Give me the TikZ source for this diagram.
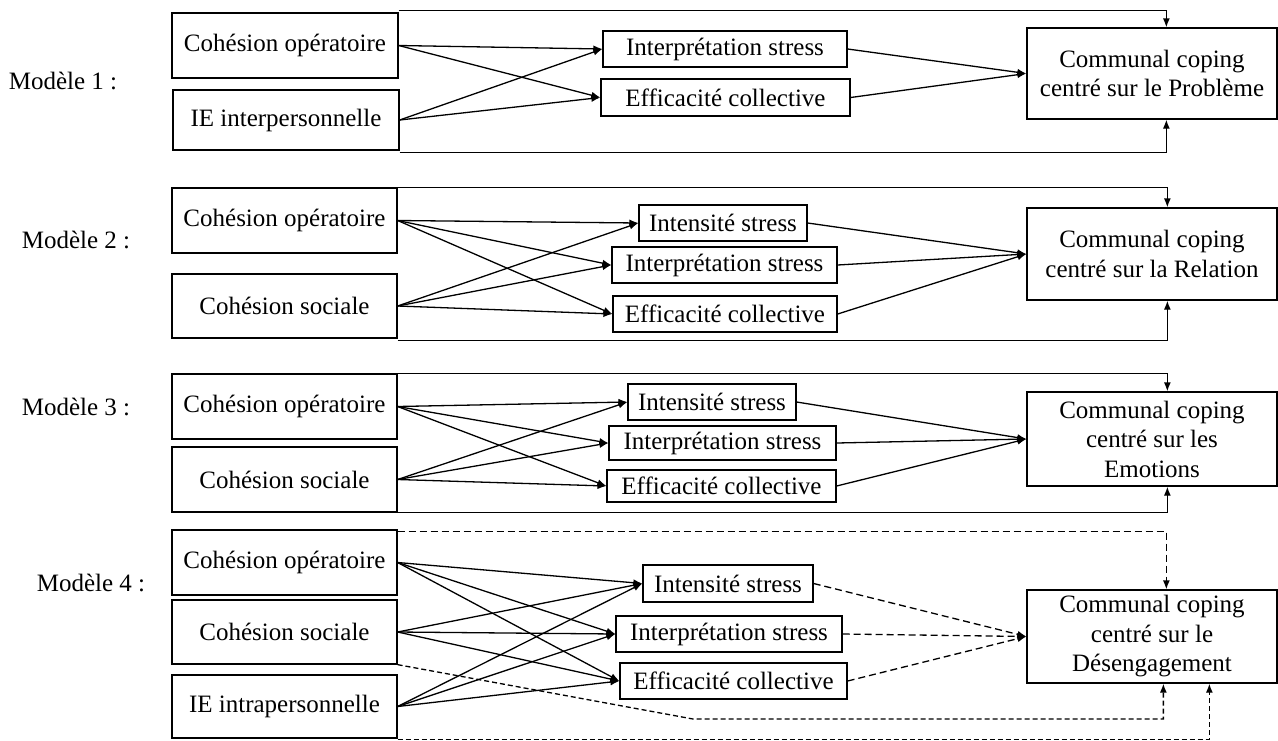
\documentclass[tikz,border=0pt]{standalone}
\usepackage{fontspec}
\setmainfont{Liberation Serif}
\usetikzlibrary{arrows.meta}
\begin{document}
\begin{tikzpicture}[x=1pt,y=-1pt,
  txt/.style={font=\fontsize{25}{29.5}\selectfont},
  box/.style={txt, draw, line width=1.3pt, inner sep=0pt, align=center},
  lab/.style={txt, inner sep=0pt},
  arr/.style={line width=1.3pt, -{Latex[length=9pt,width=7pt]}},
  darr/.style={arr, dash pattern=on 7pt off 4pt},
]
\useasboundingbox (0,0) rectangle (1278,740);

% ---------- Modele 1 ----------
\node[lab] (m1) at (63,81) {Modèle 1 :};
\node[box, minimum width=226pt, minimum height=65pt] (CO1) at (285,45.5) {Cohésion opératoire};
\node[box, minimum width=226pt, minimum height=60pt] (IE1) at (286,120) {IE interpersonnelle};
\node[box, minimum width=244pt, minimum height=36pt] (IS1) at (725,49) {Interprétation stress};
\node[box, minimum width=249pt, minimum height=37pt] (EC1) at (725.5,97.5) {Efficacité collective};
\node[box, minimum width=250pt, minimum height=91pt] (CC1) at (1152,73.5) {Communal coping\\centré sur le Problème};

\foreach \s in {CO1,IE1} \foreach \t in {IS1,EC1} \draw[arr] (\s.east) -- (\t.west);
\foreach \s in {IS1,EC1} \draw[arr] (\s.east) -- (CC1.west);
\draw[arr] ([yshift=2pt]CO1.north east) -| ([xshift=140pt]CC1.north west);
\draw[arr] ([yshift=-2pt]IE1.south east) -| ([xshift=140pt]CC1.south west);

% ---------- Modele 2 ----------
\node[lab] (m2) at (76,240) {Modèle 2 :};
\node[box, minimum width=225pt, minimum height=65pt] (CO2) at (284.5,220.5) {Cohésion opératoire};
\node[box, minimum width=225pt, minimum height=64pt] (CS2) at (284.5,306) {Cohésion sociale};
\node[box, minimum width=168pt, minimum height=36pt] (IT2) at (723,223) {Intensité stress};
\node[box, minimum width=225pt, minimum height=36pt] (IS2) at (724.5,265) {Interprétation stress};
\node[box, minimum width=224pt, minimum height=36pt] (EC2) at (725,314) {Efficacité collective};
\node[box, minimum width=250pt, minimum height=92pt] (CC2) at (1152,254) {Communal coping\\centré sur la Relation};

\foreach \s in {CO2,CS2} \foreach \t in {IT2,IS2,EC2} \draw[arr] (\s.east) -- (\t.west);
\foreach \s in {IT2,IS2,EC2} \draw[arr] (\s.east) -- (CC2.west);
\draw[arr] (CO2.north east) -| ([xshift=141pt]CC2.north west);
\draw[arr] ([yshift=-2pt]CS2.south east) -| ([xshift=141pt]CC2.south west);

% ---------- Modele 3 ----------
\node[lab] (m3) at (76,407) {Modèle 3 :};
\node[box, minimum width=225pt, minimum height=65pt] (CO3) at (284.5,406.5) {Cohésion opératoire};
\node[box, minimum width=225pt, minimum height=65pt] (CS3) at (284.5,479.5) {Cohésion sociale};
\node[box, minimum width=168pt, minimum height=36pt] (IT3) at (712,402) {Intensité stress};
\node[box, minimum width=227pt, minimum height=34pt] (IS3) at (722.5,443) {Interprétation stress};
\node[box, minimum width=229pt, minimum height=32pt] (EC3) at (721.5,486) {Efficacité collective};
\node[box, minimum width=250pt, minimum height=94pt] (CC3) at (1152,439) {Communal coping\\centré sur les\\Emotions};

\foreach \s in {CO3,CS3} \foreach \t in {IT3,IS3,EC3} \draw[arr] (\s.east) -- (\t.west);
\foreach \s in {IT3,IS3,EC3} \draw[arr] (\s.east) -- (CC3.west);
\draw[arr] (CO3.north east) -| ([xshift=141pt]CC3.north west);
\draw[arr] (CS3.south east) -| ([xshift=141pt]CC3.south west);

% ---------- Modele 4 ----------
\node[lab] (m4) at (91,583) {Modèle 4 :};
\node[box, minimum width=225pt, minimum height=65pt] (CO4) at (284.5,562.5) {Cohésion opératoire};
\node[box, minimum width=225pt, minimum height=64pt] (CS4) at (284.5,632) {Cohésion sociale};
\node[box, minimum width=225pt, minimum height=63pt] (IE4) at (284.5,706.5) {IE intrapersonnelle};
\node[box, minimum width=170pt, minimum height=37pt] (IT4) at (728,583.5) {Intensité stress};
\node[box, minimum width=226pt, minimum height=36pt] (IS4) at (729,634) {Interprétation stress};
\node[box, minimum width=227pt, minimum height=36pt] (EC4) at (733.5,681) {Efficacité collective};
\node[box, minimum width=250pt, minimum height=93pt] (CC4) at (1152,636.5) {Communal coping\\centré sur le\\Désengagement};

\foreach \s in {CO4,CS4,IE4} \foreach \t in {IT4,IS4,EC4} \draw[arr] (\s.east) -- (\t.west);
\foreach \s in {IT4,IS4,EC4} \draw[darr] (\s.east) -- (CC4.west);
\draw[darr] ([yshift=-2pt]CO4.north east) -| ([xshift=140pt]CC4.north west);
\coordinate (k4) at (693,719);
\draw[darr, dash pattern=on 5pt off 3pt] (CS4.south east) -- (k4) -| ([xshift=137pt]CC4.south west);
\draw[darr, dash pattern=on 5pt off 3pt] ([yshift=-0.5pt]IE4.south east) -| ([xshift=183pt]CC4.south west);
\end{tikzpicture}
\end{document}
